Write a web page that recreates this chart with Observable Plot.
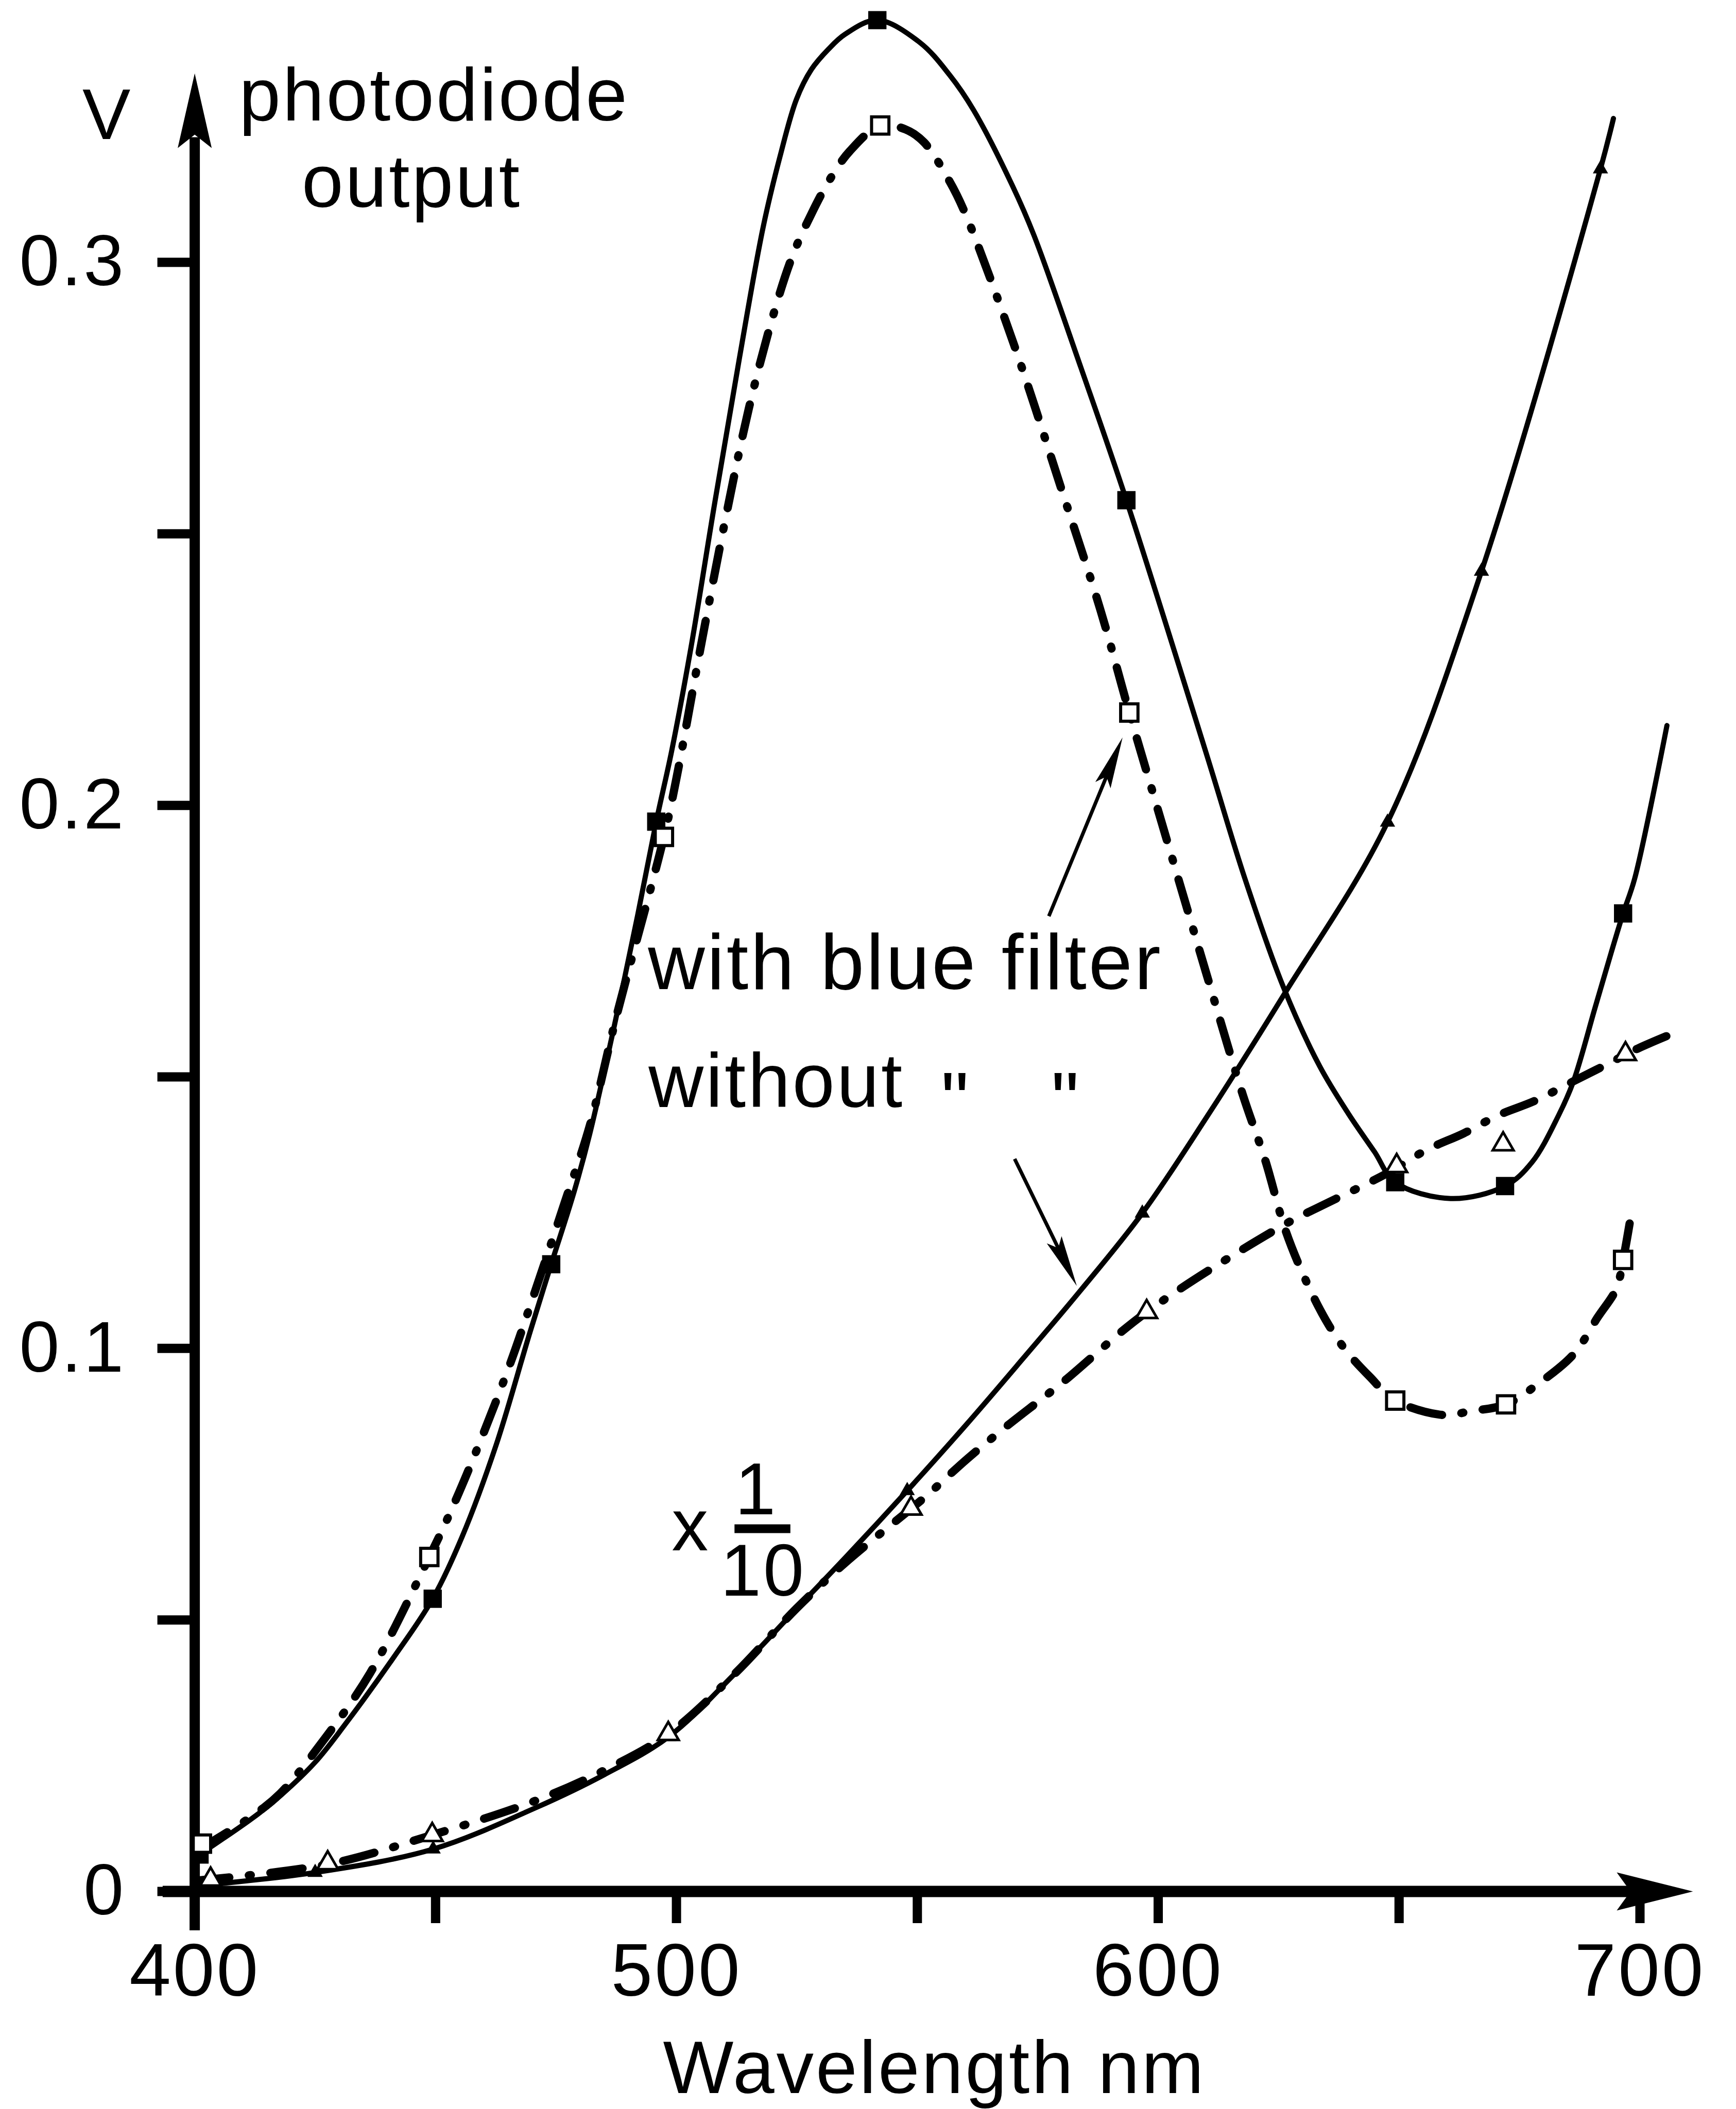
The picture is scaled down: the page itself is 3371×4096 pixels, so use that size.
<!DOCTYPE html>
<html lang="en">
<head>
<meta charset="utf-8">
<title>Photodiode output vs wavelength</title>
<script src="https://cdn.jsdelivr.net/npm/d3@7"></script>
<script src="https://cdn.jsdelivr.net/npm/@observablehq/plot@0.6"></script>
<style>
  html, body { margin: 0; padding: 0; background: #fff; }
  #chart svg { display: block; }
</style>
</head>
<body>
<div id="chart"></div>
<script>
// ---------- Measured points (markers) ----------
// filled squares (upper solid curve)
const filledSquareNm = [401, 449.4, 474, 495.8, 541.7, 593.4, 649.2, 672.0, 696.5];
const filledSquareV  = [0.0068, 0.0539, 0.1155, 0.197, 0.3446, 0.2562, 0.1306, 0.1299, 0.1801];
// open squares (upper dash-dot curve)
const openSquareNm = [401.5, 448.7, 497.4, 542.3, 594.0, 649.2, 672.2, 696.5];
const openSquareV  = [0.0088, 0.0616, 0.1942, 0.3252, 0.2171, 0.0904, 0.0897, 0.1163];
// filled triangles (lower solid curve, x 1/10)
const filledTriangleNm = [402, 425, 449.5, 498.4, 547.9, 596.7, 647.6, 667.1, 691.8];
const filledTriangleV  = [0.0012, 0.0035, 0.0078, 0.0285, 0.0738, 0.1249, 0.1969, 0.2431, 0.3172];
// open triangles (lower dash-dot curve, x 1/10)
const openTriangleNm = [403.3, 427.6, 449.3, 498.3, 548.7, 597.6, 649.5, 671.6, 697];
const openTriangleV  = [0.0022, 0.0052, 0.0104, 0.029, 0.0705, 0.1067, 0.1336, 0.1376, 0.1542];

// ---------- Traced curves ----------
const upperSolidNm = [400.5, 406, 412, 418, 425, 431, 441.3, 449.4, 455.5, 462.6, 469.6, 474, 478.8, 482, 487, 492, 495.8, 499, 503, 508, 513, 518, 521.5, 524.9, 528, 531.5, 535, 541.7, 550.5, 556.7, 561.7, 569.8, 574.2, 584, 593.4, 610, 618, 626, 633.5, 639.5, 644.9, 649.2, 660.7, 672, 677.6, 683.1, 686.2, 690.7, 694, 696.5, 698.9, 705.6];
const upperSolidV  = [0.0065, 0.0098, 0.0135, 0.0178, 0.0238, 0.0305, 0.0431, 0.0539, 0.0653, 0.0823, 0.103, 0.1155, 0.129, 0.1395, 0.159, 0.18, 0.197, 0.21, 0.229, 0.256, 0.282, 0.3065, 0.3195, 0.330, 0.3355, 0.3392, 0.342, 0.3446, 0.3405, 0.3345, 0.328, 0.314, 0.305, 0.2805, 0.2562, 0.2095, 0.1865, 0.1665, 0.152, 0.1432, 0.1362, 0.1306, 0.1276, 0.1299, 0.1343, 0.1429, 0.1492, 0.1628, 0.1728, 0.1801, 0.1865, 0.2147];

const upperDashNm = [401, 411.3, 417.7, 427.2, 436.4, 448.7, 453.4, 459, 465.4, 470.3, 476.7, 482, 487.5, 497.4, 500, 505, 510, 515, 520, 524, 528, 532, 536, 542.3, 547.5, 551.4, 556.7, 559.8, 570, 580, 588, 594, 600, 605, 610, 617.6, 622.2, 626.4, 630.6, 634.8, 638.9, 643.9, 649.2, 659.6, 664.5, 672.2, 679.2, 686.3, 691.2, 695.1, 696.5, 698.4];
const upperDashV  = [0.0078, 0.0135, 0.018, 0.0284, 0.0402, 0.0616, 0.0705, 0.0823, 0.097, 0.1096, 0.1266, 0.141, 0.161, 0.1942, 0.205, 0.229, 0.252, 0.273, 0.29, 0.301, 0.3089, 0.3155, 0.3205, 0.3252, 0.3245, 0.3221, 0.3149, 0.3093, 0.285, 0.258, 0.236, 0.2171, 0.199, 0.184, 0.169, 0.1466, 0.1347, 0.1218, 0.1126, 0.1052, 0.0997, 0.0948, 0.0904, 0.0877, 0.0884, 0.0897, 0.0937, 0.099, 0.1057, 0.111, 0.1163, 0.1259];

const lowerSolidNm = [400, 425, 449.5, 471, 485, 498.4, 512, 525.4, 535.4, 547.9, 560, 572, 584, 596.7, 610, 626, 647.6, 667.1, 691.8, 694.5];
const lowerSolidV  = [0.001, 0.0035, 0.0078, 0.0155, 0.0215, 0.0285, 0.040, 0.0525, 0.0618, 0.0738, 0.0858, 0.0982, 0.1108, 0.1249, 0.1425, 0.165, 0.1969, 0.2431, 0.3172, 0.3265];

const lowerDashNm = [400.5, 427.6, 449.3, 471, 485, 498.3, 512, 525, 535, 548.7, 552.1, 555.9, 560.4, 568.3, 579.8, 597.6, 626.4, 634, 647.2, 655.8, 663.4, 670.5, 678.2, 686.2, 692.9, 699.5, 707.4];
const lowerDashV  = [0.002, 0.005, 0.0104, 0.0168, 0.0223, 0.029, 0.040, 0.0522, 0.0605, 0.0705, 0.073, 0.0761, 0.0797, 0.0855, 0.0935, 0.1067, 0.1229, 0.1263, 0.1321, 0.1366, 0.1396, 0.1429, 0.1456, 0.1492, 0.1522, 0.1552, 0.1582];

// ---------- Axis ticks ----------
const xTicks = [400, 450, 500, 550, 600, 650, 700];
const xTickLabels = ["400", "", "500", "", "600", "", "700"];
const yTicks = [0, 0.05, 0.1, 0.15, 0.2, 0.25, 0.3];
const yTickLabels = ["0", "", "0.1", "", "0.2", "", "0.3"];

// ---------- Pointer arrows to the curve pairs ----------
const pointerFromNm = [577.3, 570.2];
const pointerFromV  = [0.1796, 0.1349];
const pointerToNm   = [592.6, 583.1];
const pointerToV    = [0.2125, 0.1115];

// ---------- Text annotations ----------
const notes = [
  {text: "V", x: 381.9, y: 0.3227, anchor: "middle", size: 140},
  {text: "photodiode", x: 409.2, y: 0.3261, anchor: "start", size: 145},
  {text: "output", x: 445.05, y: 0.3102, anchor: "middle", size: 145},
  {text: "with blue filter", x: 494.1, y: 0.1662, anchor: "start", size: 153},
  {text: "without", x: 494.2, y: 0.1445, anchor: "start", size: 148},
  {text: "\"", x: 558.0, y: 0.1408, anchor: "middle", size: 152},
  {text: "\"", x: 580.9, y: 0.1408, anchor: "middle", size: 152},
  {text: "x", x: 503.0, y: 0.0628, anchor: "middle", size: 142},
  {text: "1", x: 516.6, y: 0.0695, anchor: "middle", size: 142},
  {text: "10", x: 518.0, y: 0.0545, anchor: "middle", size: 142},
  {text: "Wavelength nm", x: 553.55, y: -0.0371, anchor: "middle", size: 145}
];

// ---------- Layout ----------
const width = 3371, height = 4096;
const margin = {left: 377.6, right: 187, top: 509, bottom: 423};
const xDomain = [400, 700], yDomain = [0, 0.3];
const kx = (width - margin.left - margin.right) / (xDomain[1] - xDomain[0]);
const ky = (height - margin.top - margin.bottom) / (yDomain[1] - yDomain[0]);

const pts = (xs, ys) => xs.map((x, i) => ({x, y: ys[i]}));

// slender filled arrowhead; tip at the origin, pointing up before rotation
const arrowHead = (len, wide) => ({
  draw(ctx) {
    ctx.moveTo(0, 0);
    ctx.lineTo(wide / 2, len);
    ctx.lineTo(0, len * 0.82);
    ctx.lineTo(-wide / 2, len);
    ctx.closePath();
  }
});

const pointerHeadLen = 100;
const pointers = pointerFromNm.map((x1, i) => {
  const y1 = pointerFromV[i], x2 = pointerToNm[i], y2 = pointerToV[i];
  const dx = (x2 - x1) * kx, dy = (y2 - y1) * ky, len = Math.hypot(dx, dy);
  const f = 1 - (pointerHeadLen * 0.8) / len;
  return {x1, y1, x2, y2, bx: x1 + (x2 - x1) * f, by: y1 + (y2 - y1) * f,
          rot: Math.atan2(dx, dy) * 180 / Math.PI};
});

const yLabel = (d) => yTickLabels[yTicks.findIndex((t) => Math.abs(t - d) < 1e-9)] ?? "";
const xLabel = (d) => xTickLabels[xTicks.findIndex((t) => Math.abs(t - d) < 1e-9)] ?? "";

const dashDot = "63 38 4 38";
const textMarks = ["start", "middle"].map((anchor) =>
  Plot.text(notes.filter((d) => d.anchor === anchor), {
    x: "x", y: "y", text: "text", fontSize: (d) => d.size,
    textAnchor: anchor, lineAnchor: "bottom", fill: "black"
  })
);

const chart = Plot.plot({
  width, height,
  marginLeft: margin.left, marginRight: margin.right,
  marginTop: margin.top, marginBottom: margin.bottom,
  x: {domain: xDomain},
  y: {domain: yDomain},
  style: {
    fontFamily: "'Liberation Sans', Arial, sans-serif",
    fontSize: "140px",
    letterSpacing: "4px",
    background: "white",
    color: "black"
  },
  marks: [
    // axes with arrowheads
    Plot.ruleY([0], {x1: 393.4, x2: 702, strokeWidth: 22}),
    Plot.ruleX([400], {y1: -0.0072, y2: 0.323, strokeWidth: 20}),
    Plot.dot([{x: 711, y: 0}], {x: "x", y: "y", symbol: arrowHead(148, 74), rotate: 90, fill: "black", stroke: "none"}),
    Plot.dot([{x: 400, y: 0.3348}], {x: "x", y: "y", symbol: arrowHead(145, 66), rotate: 0, fill: "black", stroke: "none"}),
    Plot.axisX({ticks: xTicks, tickFormat: xLabel, tickSize: 62, tickPadding: 38, strokeWidth: 18, fontSize: 145, label: null}),
    Plot.axisY({ticks: yTicks, tickFormat: yLabel, tickSize: 72, tickPadding: 62, strokeWidth: 18, fontSize: 140, label: null}),

    // curves
    Plot.line(pts(upperSolidNm, upperSolidV), {x: "x", y: "y", curve: "catmull-rom", strokeWidth: 10}),
    Plot.line(pts(upperDashNm, upperDashV), {x: "x", y: "y", curve: "catmull-rom", strokeWidth: 16, strokeDasharray: dashDot, strokeLinecap: "round"}),
    Plot.line(pts(lowerSolidNm, lowerSolidV), {x: "x", y: "y", curve: "catmull-rom", strokeWidth: 10}),
    Plot.line(pts(lowerDashNm, lowerDashV), {x: "x", y: "y", curve: "catmull-rom", strokeWidth: 16, strokeDasharray: dashDot, strokeLinecap: "round"}),

    // markers
    Plot.dot(pts(filledSquareNm, filledSquareV), {x: "x", y: "y", symbol: "square", r: 20, fill: "black", stroke: "none"}),
    Plot.dot(pts(openSquareNm, openSquareV), {x: "x", y: "y", symbol: "square", r: 19, fill: "white", stroke: "black", strokeWidth: 6}),
    Plot.dot(pts(filledTriangleNm, filledTriangleV), {x: "x", y: "y", symbol: "triangle", r: 11, fill: "black", stroke: "none"}),
    Plot.dot(pts(openTriangleNm, openTriangleV), {x: "x", y: "y", symbol: "triangle", r: 15, fill: "white", stroke: "black", strokeWidth: 5}),

    // pointer arrows
    Plot.link(pointers, {x1: "x1", y1: "y1", x2: "bx", y2: "by", strokeWidth: 7}),
    Plot.dot(pointers, {x: "x2", y: "y2", rotate: "rot", symbol: arrowHead(pointerHeadLen, 32), fill: "black", stroke: "none"}),

    // fraction bar of the x 1/10 scale note
    Plot.ruleY([0.0668], {x1: 512.1, x2: 523.7, strokeWidth: 17}),

    ...textMarks
  ]
});

document.getElementById("chart").append(chart);
</script>
</body>
</html>
